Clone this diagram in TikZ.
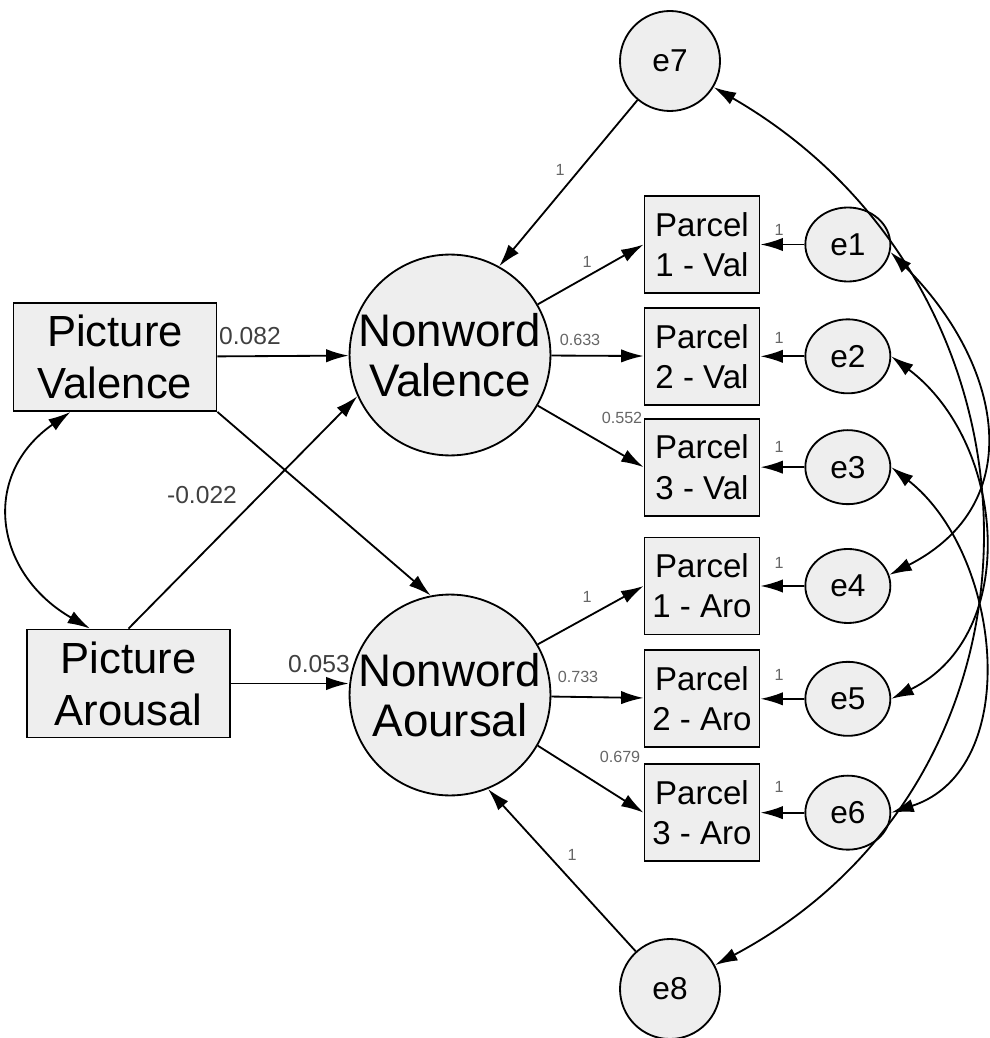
\documentclass[tikz,border=0pt]{standalone}
\usepackage{fontspec}
\setmainfont{Liberation Sans}
\usepackage{xcolor}
\usepackage{tikz}
\usetikzlibrary{positioning, arrows.meta, shapes.geometric}

\begin{document}
\begin{tikzpicture}[
      x=0.25mm, y=-0.25mm,
      node distance=3.5mm and 11mm,
      obs/.style={draw, line width=1.3pt, fill=gray!13, align=center, inner sep=0pt},
      stim/.style={obs, minimum width=50.75mm, minimum height=27mm, font=\fontsize{31}{37}\selectfont},
      indicator/.style={obs, minimum width=28.75mm, minimum height=24.25mm, font=\fontsize{23.5}{28.5}\selectfont},
      latent/.style={obs, circle, minimum size=50mm, font=\fontsize{32.5}{36}\selectfont},
      err/.style={obs, ellipse, minimum width=21.25mm, minimum height=18.5mm, font=\fontsize{22.5}{26}\selectfont},
      disturb/.style={obs, circle, minimum size=25mm, font=\fontsize{22.5}{26}\selectfont},
      arr/.style={line width=1.3pt, -{Latex[length=16pt, width=9.5pt]}},
      cov/.style={line width=1.3pt, {Latex[length=16pt, width=9.5pt]}-{Latex[length=16pt, width=9.5pt]}},
      coef/.style={font=\fontsize{17.5}{20}\selectfont, text=black!75, inner sep=0pt},
      wt/.style={font=\fontsize{11.5}{13}\selectfont, text=black!60, inner sep=0pt}
    ]
    \useasboundingbox (0,0) rectangle (989,1038);

    \node[stim] (pv) at (115,357) {Picture\\Valence};
    \node[stim] (pa) at (128.5,683.5) {Picture\\Arousal};
    \node[latent] (nv) at (450,355) {Nonword\\Valence};
    \node[latent] (na) at (450,695) {Nonword\\Aoursal};

    \node[indicator] (p1v) at (702,244.5) {Parcel\\1 - Val};
    \node[indicator, below=3.25mm of p1v] (p2v) {Parcel\\2 - Val};
    \node[indicator, below=3mm of p2v] (p3v) {Parcel\\3 - Val};
    \node[indicator, below=5mm of p3v] (p1a) {Parcel\\1 - Aro};
    \node[indicator, below=3.5mm of p1a] (p2a) {Parcel\\2 - Aro};
    \node[indicator, below=3.75mm of p2a] (p3a) {Parcel\\3 - Aro};

    \node[err, right=of p1v] (e1) {e1};
    \node[err, right=of p2v] (e2) {e2};
    \node[err, right=of p3v] (e3) {e3};
    \node[err, right=of p1a] (e4) {e4};
    \node[err, right=of p2a] (e5) {e5};
    \node[err, right=of p3a] (e6) {e6};
    \node[disturb] (e7) at (670,61) {e7};
    \node[disturb] (e8) at (670,989) {e8};

    \draw[arr] (pv) -- (nv);
    \draw[arr] (pa.east) -- (pa.east -| na.west);
    \draw[arr] (pv.south east) -- (na.101);
    \draw[arr] (pa.north) -- (nv.204);
    \draw[cov] (pv.231) to[out=215, in=150, looseness=1.3] (pa.125);

    \draw[arr] (e7) -- (nv.61);
    \draw[arr] (e8) -- (na.-68);

    \draw[arr] (nv.30) -- (p1v.west);
    \draw[arr] (nv) -- (p2v);
    \draw[arr] (nv.-30) -- (p3v.west);
    \draw[arr] (na.30) -- (p1a.west);
    \draw[arr] (na) -- (p2a);
    \draw[arr] (na.-30) -- (p3a.west);

    \foreach \i/\p in {1/p1v, 2/p2v, 3/p3v, 4/p1a, 5/p2a, 6/p3a}
      \draw[arr] (e\i) -- (\p);

    \draw[cov] (e1.-10) to[out=-45, in=27, looseness=1.25] (e4.15);
    \draw[cov] (e2.east) to[out=-37, in=26, looseness=1.08] (e5.east);
    \draw[cov] (e3.east) to[out=-38, in=18, looseness=1.04] (e6.east);
    \draw[cov] (e7.-31) to[out=-30, in=28, looseness=1.18] (e8.28);

    \node[coef] (b082) at (250,336) {0.082};
    \node[coef] (b053) at (319,664) {0.053};
    \node[coef] (b022) at (202,495) {-0.022};

    \node[wt] (w7) at (560,170) {1};
    \node[wt] (w8) at (572,855) {1};
    \node[wt] (l1v) at (587,262) {1};
    \node[wt] (l2v) at (580,340) {0.633};
    \node[wt] (l3v) at (622,418) {0.552};
    \node[wt] (l1a) at (587,597) {1};
    \node[wt] (l2a) at (578,677) {0.733};
    \node[wt] (l3a) at (620,757) {0.679};
    \foreach \i/\y in {1/230, 2/338, 3/447, 4/563, 5/675, 6/787}
      \node[wt] (u\i) at (779,\y) {1};
  \end{tikzpicture}
\end{document}
